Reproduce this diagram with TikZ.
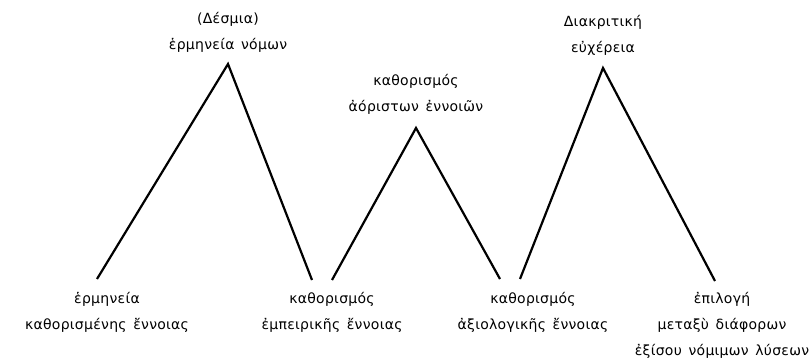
\documentclass[tikz,border=0pt]{standalone}
\usepackage{fontspec}
\setmainfont[LetterSpace=2,WordSpace=1.4]{DejaVu Sans}

\begin{document}
\begin{tikzpicture}[x=1pt, y=1pt,
		lbl/.style={align=center, inner sep=0pt, font=\fontsize{14}{26}\selectfont},
		leg/.style={line width=2.2pt}]
		\useasboundingbox (0,0) rectangle (811,362);
		% peaks and feet
		\coordinate (top1) at (228,298);
		\coordinate (top2) at (416,234);
		\coordinate (top3) at (603,294);
		\coordinate (foot1) at (97,83);
		\coordinate (foot2) at (312,82);
		\coordinate (foot3) at (332,82);
		\coordinate (foot4) at (500,83);
		\coordinate (foot5) at (520,83);
		\coordinate (foot6) at (715,81);
		\draw[leg] (foot1) -- (top1) -- (foot2);
		\draw[leg] (foot3) -- (top2) -- (foot4);
		\draw[leg] (foot5) -- (top3) -- (foot6);
		% labels above
		\node[lbl] (desmia) at (228,330) {(Δέσμια)\\ἑρμηνεία νόμων};
		\node[lbl] (aoristes) at (416,268) {καθορισμός\\ἀόριστων ἐννοιῶν};
		\node[lbl] (diakr) at (603,327) {Διακριτική\\εὐχέρεια};
		% labels below
		\node[lbl] (orismenh) at (107,50) {ἑρμηνεία\\καθορισμένης ἔννοιας};
		\node[lbl] (empeir) at (332,50) {καθορισμός\\ἐμπειρικῆς ἔννοιας};
		\node[lbl] (axiol) at (533,50) {καθορισμός\\ἀξιολογικῆς ἔννοιας};
		\node[lbl] (epilogh) at (722,37) {ἐπιλογή\\μεταξὺ διάφορων\\ἐξίσου νόμιμων λύσεων};
		%\draw[gray] (0,0) grid[step=50] (811,362);
	\end{tikzpicture}
\end{document}
